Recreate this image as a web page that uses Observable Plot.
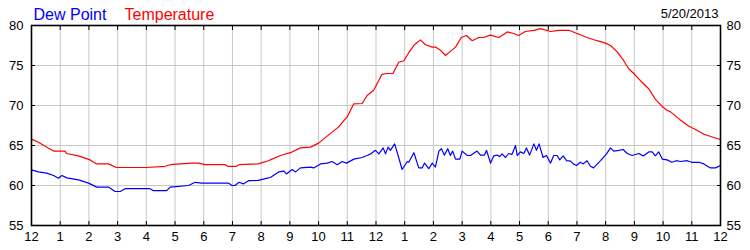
<!DOCTYPE html>
<html>
<head>
<meta charset="utf-8">
<script src="https://cdn.jsdelivr.net/npm/d3@7"></script>
<script src="https://cdn.jsdelivr.net/npm/@observablehq/plot@0.6"></script>
<style>
  html, body { margin: 0; padding: 0; background: #fff; }
  #chart svg { display: block; }
</style>
</head>
<body>
<div id="chart"></div>
<script>
// ---- data ----
const tempHours = [0,0.24,0.52,0.77,1.17,1.22,1.64,2.04,2.27,2.68,2.96,4.0,4.65,4.83,5.57,5.82,6.05,6.75,6.83,7.14,7.23,7.9,8.25,8.32,8.67,9.02,9.37,9.72,10.0,10.34,10.69,11.0,11.22,11.52,11.69,11.92,12.21,12.38,12.59,12.79,12.97,13.14,13.34,13.55,13.72,13.96,14.07,14.25,14.42,14.6,14.77,14.97,15.15,15.35,15.58,15.74,15.99,16.28,16.57,16.79,16.97,17.2,17.5,17.73,18.08,18.37,18.72,19.0,19.35,19.7,19.99,20.17,20.4,20.63,20.8,20.98,21.21,21.5,21.73,21.99,22.14,22.26,22.6,22.9,23.13,23.42,23.77,24.0];
const tempValues = [65.8,65.4,64.8,64.3,64.3,64.0,63.7,63.2,62.7,62.7,62.25,62.25,62.4,62.6,62.8,62.8,62.6,62.6,62.4,62.4,62.6,62.7,63.1,63.2,63.75,64.1,64.7,64.8,65.3,66.3,67.3,68.6,70.2,70.25,71.25,71.9,73.9,74.0,74.0,75.4,75.6,76.6,77.6,78.2,77.6,77.3,77.3,76.9,76.25,76.8,77.3,78.5,78.75,78.1,78.5,78.5,78.8,78.5,79.2,79.0,78.75,79.25,79.4,79.6,79.25,79.4,79.4,79.0,78.5,78.1,77.8,77.5,76.7,75.6,74.6,74.0,73.1,72.1,70.8,69.8,69.4,69.2,68.2,67.4,67.0,66.4,66.0,65.75];

const dewHours = [0,0.24,0.53,0.77,0.94,1.06,1.23,1.64,1.99,2.27,2.68,2.91,3.09,3.26,4.13,4.25,4.71,4.83,5.47,5.7,5.93,6.86,6.98,7.09,7.23,7.38,7.56,7.9,8.25,8.32,8.61,8.79,8.88,9.08,9.2,9.37,9.72,9.83,10.07,10.3,10.47,10.65,10.82,10.97,11.23,11.52,11.69,11.81,11.98,12.1,12.25,12.33,12.42,12.5,12.65,12.79,12.91,13.09,13.14,13.32,13.49,13.61,13.69,13.84,13.96,14.07,14.19,14.28,14.38,14.5,14.59,14.67,14.77,14.92,15.0,15.18,15.29,15.52,15.64,15.78,15.85,15.99,16.1,16.24,16.31,16.39,16.51,16.62,16.74,16.86,16.92,17.03,17.15,17.24,17.35,17.5,17.59,17.68,17.82,17.94,18.08,18.19,18.31,18.4,18.52,18.64,18.78,18.87,18.99,19.1,19.22,19.35,19.47,19.58,19.82,20.03,20.17,20.28,20.46,20.61,20.75,20.92,21.15,21.31,21.5,21.62,21.73,21.85,21.97,22.14,22.31,22.46,22.6,22.84,23.0,23.25,23.42,23.65,23.83,24.0];
const dewValues = [61.95,61.7,61.55,61.25,60.9,61.25,60.95,60.7,60.3,59.8,59.8,59.25,59.25,59.6,59.6,59.35,59.35,59.8,60.0,60.4,60.3,60.3,60.0,60.0,60.4,60.2,60.6,60.65,60.95,61.0,61.7,61.8,61.45,62.0,61.7,62.2,62.3,62.2,62.7,62.8,63.0,62.6,63.0,62.8,63.3,63.5,63.75,63.95,64.4,63.95,64.7,63.95,64.8,64.4,65.2,63.5,62.0,63.0,62.9,64.1,62.2,62.2,62.8,62.1,62.8,62.3,64.3,64.6,63.8,64.6,63.75,64.3,63.3,63.3,64.3,63.75,63.75,64.3,63.8,63.8,64.4,62.8,63.7,63.8,63.6,63.95,63.5,64.0,63.9,65.0,63.75,64.2,64.0,64.7,63.8,65.2,64.4,65.2,63.5,63.75,62.8,63.75,63.75,63.2,63.7,63.1,63.05,62.7,62.5,62.9,62.7,63.1,62.4,62.2,63.1,63.95,64.7,64.3,64.4,64.5,64.0,63.75,64.0,63.7,64.2,64.2,63.7,64.2,63.3,63.2,62.9,63.1,63.0,63.1,62.9,62.9,62.7,62.2,62.2,62.5];

const xTicks = d3.range(0, 25);            // hours 0..24
const xTickLabels = ["12","1","2","3","4","5","6","7","8","9","10","11","12","1","2","3","4","5","6","7","8","9","10","11","12"];
const yTicks = [55, 60, 65, 70, 75, 80];
const seriesNames = ["Dew Point", "Temperature"];
const seriesColors = ["#0000ff", "#ff0000"];
const dateLabel = ["5/20/2013"];

// ---- tables ----
const temp = tempHours.map((h, i) => ({h, v: tempValues[i]}));
const dew = dewHours.map((h, i) => ({h, v: dewValues[i]}));

const chart = Plot.plot({
  width: 750,
  height: 250,
  marginLeft: 31,
  marginRight: 30,
  marginTop: 25,
  marginBottom: 25,
  style: {fontFamily: "'Liberation Sans', Arial, sans-serif", fontSize: "13px", color: "#000", background: "#fff"},
  x: {domain: [0, 24]},
  y: {domain: [55, 80]},
  marks: [
    Plot.gridX(xTicks, {stroke: "#c8c8c8", strokeOpacity: 1}),
    Plot.gridY(yTicks, {stroke: "#c8c8c8", strokeOpacity: 1}),
    Plot.line(dew, {x: "h", y: "v", stroke: seriesColors[0], strokeWidth: 1.2}),
    Plot.line(temp, {x: "h", y: "v", stroke: seriesColors[1], strokeWidth: 1.2}),
    Plot.frame({stroke: "#000", strokeWidth: 1.6}),
    Plot.axisX(xTicks, {anchor: "bottom", tickSize: -4, tickPadding: 10, tickFormat: (d) => xTickLabels[d], fill: "#000", stroke: "#000", label: null}),
    Plot.axisX(xTicks, {anchor: "top", tickSize: -4, tickFormat: () => "", stroke: "#000", label: null}),
    Plot.axisY(yTicks, {anchor: "left", tickSize: -4, tickPadding: 12, stroke: "#000", fill: "#000", label: null}),
    Plot.axisY(yTicks, {anchor: "right", tickSize: -4, tickPadding: 10, stroke: "#000", fill: "#000", label: null}),
    Plot.text([seriesNames[0]], {frameAnchor: "top-left", text: (d) => d, fill: seriesColors[0], fontSize: 16, textAnchor: "start", lineAnchor: "bottom", dx: 2, dy: -6}),
    Plot.text([seriesNames[1]], {frameAnchor: "top-left", text: (d) => d, fill: seriesColors[1], fontSize: 16, textAnchor: "start", lineAnchor: "bottom", dx: 93, dy: -6}),
    Plot.text(dateLabel, {frameAnchor: "top-right", text: (d) => d, fill: "#000", fontSize: 13, textAnchor: "end", lineAnchor: "bottom", dx: -2, dy: -8})
  ]
});
document.getElementById("chart").appendChild(chart);
</script>
</body>
</html>
